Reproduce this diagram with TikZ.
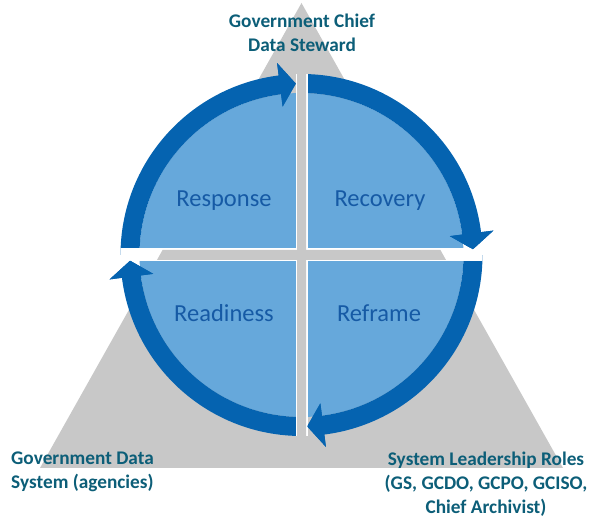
\documentclass[tikz,border=0pt]{standalone}
\usepackage{fontspec}
\setmainfont{Carlito}
\usepackage{tikz}
\usetikzlibrary{calc, positioning}
\definecolor{trigray}{RGB}{200,200,200}
\definecolor{quadblue}{RGB}{102,168,219}
\definecolor{ringblue}{RGB}{5,99,176}
\definecolor{quadtext}{RGB}{22,90,165}
\definecolor{lbltext}{RGB}{12,94,120}
% one quarter of the cycle: arc from #1 (deg) clockwise, head just before axis #2
\newcommand\cyclestep[2]{\draw[ring] (#1:171.5) arc (#1:#2+7:171.5);
\fill[ringblue] (#2+7.25:149.5) -- (#2+1.9:171.5) -- (#2+7.25:193.5) -- cycle;}
\tikzset{
  ring/.style={draw=ringblue, line width=19pt, line cap=butt},
  quadlbl/.style={text=quadtext, font=\fontsize{24.5}{28}\selectfont},
  rolelbl/.style={text=lbltext, font=\fontsize{19.3}{24}\selectfont\bfseries, inner sep=0pt}
}

\begin{document}
\begin{tikzpicture}[x=1pt, y=1pt]
\useasboundingbox (0,0) rectangle (600,529);
\coordinate (apex) at (301.5,526);
\coordinate (baseL) at (40,61);
\coordinate (baseR) at (563,61);
\coordinate (ctr) at (301.5,274);
\fill[trigray] (apex) -- (baseL) -- (baseR) -- cycle;

\begin{scope}[shift={(ctr)}]
\fill[quadblue] (0,0) circle (162);
\cyclestep{180}{90}
\cyclestep{90}{0}
\cyclestep{0}{-90}
\cyclestep{-90}{-180}
\end{scope}

% gaps between the quarters
\begin{scope}[shift={(ctr)}]
\begin{scope}
\clip (0,0) circle (181);
\fill[white] (-6,-190) rectangle (6,190);
\fill[white] (-190,-6.5) rectangle (190,6.5);
\end{scope}
\begin{scope}
\clip (-4.5,-190) rectangle (4.5,190) (-190,-5) rectangle (190,5);
\fill[trigray] (apex) -- (baseL) -- (baseR) -- cycle;
\end{scope}
\end{scope}

% arrow heads on top of the gaps
\begin{scope}[shift={(ctr)}]
\fill[ringblue] (97.25:149.5) -- (91.9:171.5) -- (97.25:193.5) -- cycle;
\fill[ringblue] (7.25:149.5) -- (1.9:171.5) -- (7.25:193.5) -- cycle;
\fill[ringblue] (-82.75:149.5) -- (-88.1:171.5) -- (-82.75:193.5) -- cycle;
\fill[ringblue] (-172.75:149.5) -- (-178.1:171.5) -- (-172.75:193.5) -- cycle;
\end{scope}

\node[quadlbl] (response) at (224,328.5) {Response};
\node[quadlbl] (recovery) at (380,328.5) {Recovery};
\node[quadlbl] (readiness) at (224,216) {Readiness};
\node[quadlbl] (reframe) at (379,216) {Reframe};

\node[rolelbl, align=center] (steward) at (302,496) {Government Chief\\Data Steward};
\node[rolelbl, align=left, anchor=west] (agencies) at (11,57) {Government Data\\System (agencies)};
\node[rolelbl, align=center] (leaders) at (486,45) {System Leadership Roles\\(GS, GCDO, GCPO, GCISO,\\Chief Archivist)};
\end{tikzpicture}
\end{document}
